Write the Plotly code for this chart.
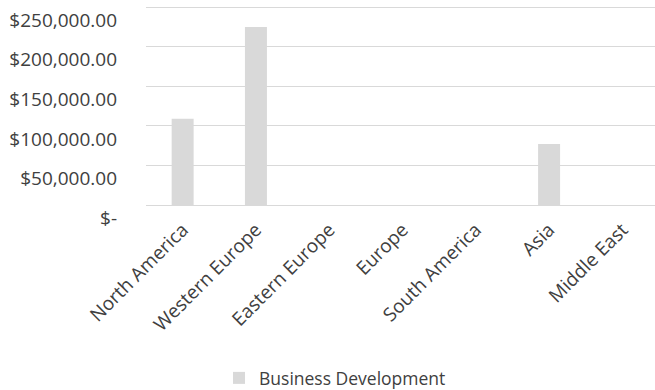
import plotly.graph_objects as go

categories = ["North America", "Western Europe", "Eastern Europe", "Europe",
              "South America", "Asia", "Middle East"]
values = [109000, 225000, 0, 0, 0, 77000, 0]
y_tickvals = [0, 50000, 100000, 150000, 200000, 250000]
y_ticktext = ["$-", "$50,000.00", "$100,000.00", "$150,000.00", "$200,000.00", "$250,000.00"]
series_name = "Business Development"

FONT = "Open Sans"
TXT = "#404040"

fig = go.Figure()
fig.add_trace(go.Bar(
    x=categories, y=values, name=series_name,
    marker=dict(color="#d9d9d9", line=dict(width=0)),
    showlegend=True,
))

fig.update_layout(
    width=655, height=390,
    margin=dict(l=146, r=0, t=4, b=185),
    paper_bgcolor="white", plot_bgcolor="white",
    bargap=0.7,
    font=dict(family=FONT, color=TXT, size=17),
    showlegend=True,
    legend=dict(
        orientation="h", xref="container", yref="container",
        x=219 / 655, xanchor="left", y=1 - 378 / 390, yanchor="middle",
        font=dict(family=FONT, size=17.5, color=TXT),
        bgcolor="rgba(0,0,0,0)",
    ),
)
fig.update_xaxes(
    type="category", range=[-0.5, 6.445],
    tickangle=-45, tickfont=dict(family=FONT, size=19, color=TXT),
    showgrid=False, showline=False, ticks="", ticklabelstandoff=9,
)
fig.update_yaxes(
    range=[0, 254000], tickvals=y_tickvals, ticktext=y_ticktext,
    tickfont=dict(family=FONT, size=19, color=TXT),
    showgrid=True, gridcolor="#d9d9d9", gridwidth=1,
    zeroline=True, zerolinecolor="#d9d9d9", zerolinewidth=1,
    showline=False, ticks="", ticklabelstandoff=28, ticklabelshift=13,
)

fig.write_html("out.html")
